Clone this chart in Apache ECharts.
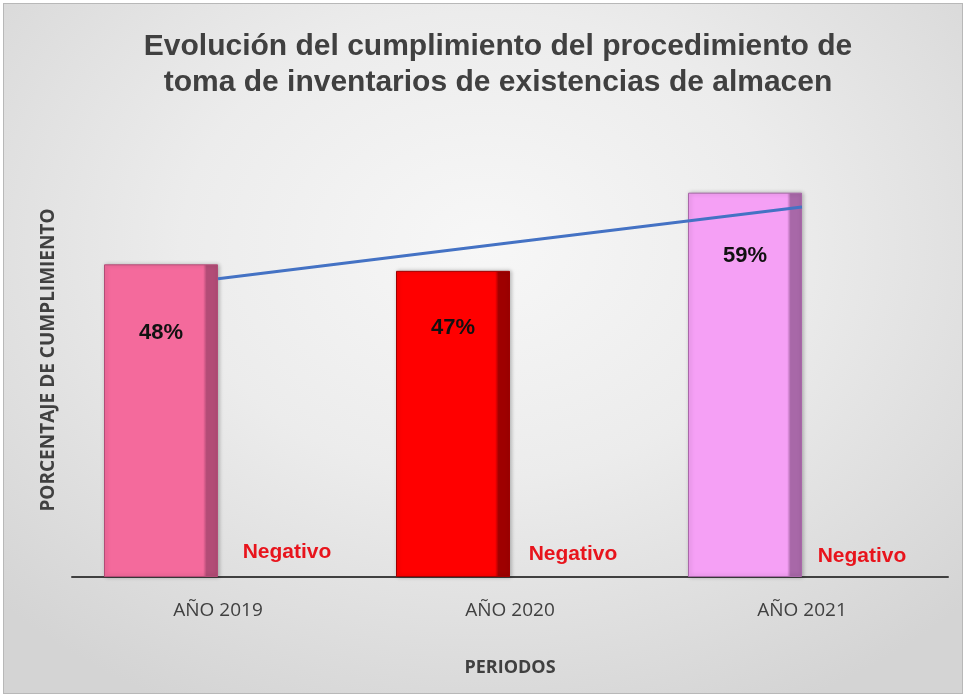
<!DOCTYPE html>
<html>
<head>
<meta charset="utf-8">
<script src="https://cdn.jsdelivr.net/npm/echarts@6/dist/echarts.min.js"></script>
<style>
  html, body { margin: 0; padding: 0; background: #fff; }
  #chart {
    width: 960px; height: 691px; margin: 3px;
    border: 1px solid #b8b8b8; box-sizing: border-box;
    background: radial-gradient(ellipse 70% 75% at 50% 35%, #f7f7f7 0%, #ececec 45%, #d4d4d4 100%);
  }
</style>
</head>
<body>
<div id="chart"></div>
<script>
// datos del grafico
const periodos = ['AÑO 2019', 'AÑO 2020', 'AÑO 2021'];
const cumplimiento = [0.48, 0.47, 0.59];
const negativo = [0, 0, 0];
const tendencia = [0.458, 0.513, 0.568];
const coloresBarra = ['#F46A9C', '#FF0000', '#F5A0F5'];
const coloresBorde = ['#B24C76', '#9E0000', '#A868A8'];

function barGradient(i) {
  return new echarts.graphic.LinearGradient(0, 0, 1, 0, [
    { offset: 0, color: coloresBarra[i] },
    { offset: 0.87, color: coloresBarra[i] },
    { offset: 0.9, color: coloresBorde[i] },
    { offset: 1, color: coloresBorde[i] }
  ]);
}

const chart = echarts.init(document.getElementById('chart'));
chart.setOption({
  animation: false,
  title: {
    text: 'Evolución del cumplimiento del procedimiento de\ntoma de inventarios de existencias de almacen',
    left: 489,
    textAlign: 'center',
    top: 20,
    textStyle: {
      fontFamily: 'Liberation Sans',
      fontWeight: 'bold',
      fontSize: 30,
      lineHeight: 36,
      color: '#404040'
    }
  },
  grid: { left: 68, right: 14, top: 117, bottom: 116 },
  xAxis: {
    type: 'category',
    data: periodos,
    boundaryGap: true,
    axisTick: { show: false },
    axisLine: { lineStyle: { color: '#404040', width: 2 } },
    axisLabel: {
      color: '#404040',
      fontFamily: 'Open Sans',
      fontSize: 19,
      margin: 24
    },
    name: 'PERIODOS',
    nameLocation: 'middle',
    nameGap: 82,
    nameTextStyle: {
      color: '#404040',
      fontFamily: 'Open Sans',
      fontWeight: 'bold',
      fontSize: 18
    }
  },
  yAxis: {
    type: 'value',
    min: 0,
    max: 0.7,
    axisLine: { show: false },
    axisTick: { show: false },
    axisLabel: { show: false },
    splitLine: { show: false },
    name: 'PORCENTAJE DE CUMPLIMIENTO',
    nameLocation: 'middle',
    nameGap: 14,
    nameTextStyle: {
      color: '#404040',
      fontFamily: 'Open Sans',
      fontWeight: 'bold',
      fontSize: 19,
      padding: [0, 22, 0, 0]
    }
  },
  series: [
    {
      name: 'Cumplimiento',
      type: 'bar',
      barWidth: 114,
      barGap: '0%',
      data: cumplimiento.map((v, i) => ({
        value: v,
        itemStyle: {
          color: barGradient(i),
          borderColor: coloresBorde[i],
          borderWidth: 1,
          shadowColor: 'rgba(0,0,0,0.25)',
          shadowBlur: 4,
          shadowOffsetX: 1
        },
        label: { offset: [[0, 12], [0, 0], [0, 6]][i] }
      })),
      label: {
        show: true,
        position: 'insideTop',
        distance: 46,
        formatter: p => Math.round(p.value * 100) + '%',
        color: '#111',
        fontFamily: 'Liberation Sans',
        fontWeight: 'bold',
        fontSize: 22
      },
      z: 2
    },
    {
      name: 'Negativo',
      type: 'bar',
      barWidth: 114,
      data: negativo.map((v, i) => ({
        value: v,
        label: { offset: [[12, 0], [6, 2], [3, 4]][i] }
      })),
      itemStyle: { color: 'transparent' },
      label: {
        show: true,
        position: 'top',
        distance: 14,
        formatter: 'Negativo',
        color: '#E8141C',
        fontFamily: 'Liberation Sans',
        fontWeight: 'bold',
        fontSize: 21
      }
    },
    {
      name: 'Tendencia',
      type: 'line',
      data: tendencia,
      symbol: 'none',
      lineStyle: { color: '#4472C4', width: 3 },
      z: 5
    }
  ]
});
</script>
</body>
</html>
